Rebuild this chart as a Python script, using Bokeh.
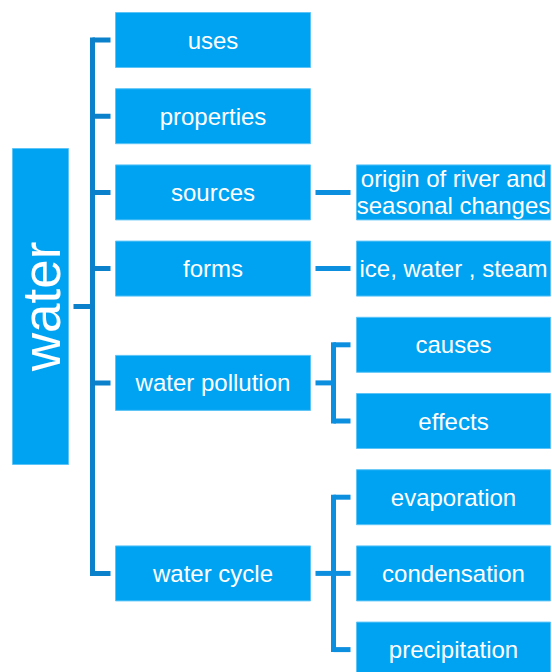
from bokeh.plotting import figure
from bokeh.models import Range1d, ColumnDataSource
from bokeh.core.properties import value
from bokeh.embed import file_html
from bokeh.resources import INLINE
import math

# ---- data (tree) ----
root_label = "water"
level1_labels = ["uses", "properties", "sources", "forms", "water pollution", "water cycle"]
level2_parents = ["sources", "forms", "water pollution", "water pollution",
                  "water cycle", "water cycle", "water cycle"]
level2_labels = ["origin of river and\nseasonal changes", "ice, water , steam",
                 "causes", "effects", "evaporation", "condensation", "precipitation"]

# ---- styles / layout ----
BOX = "#00a3f2"
BOX_EDGE = "#5cc4f7"
MAIN_LINE = "#0b80cb"
SUB_LINE = "#0d8fe0"
FONT = "Liberation Sans"

SLOT0, SLOT_STEP, BOX_H = 39.5, 76.2, 55
ROOT_L, ROOT_R, ROOT_T, ROOT_B = 12, 68, 148, 464
L1_L, L1_R = 115, 310
L2_L, L2_R = 356, 550
TRUNK_X = 92
SUB_X = 333
LW = 5

# compute slot positions
slot = 0
l1_y = {}
l2_y = []
for lab in level1_labels:
    kids = [i for i, p in enumerate(level2_parents) if p == lab]
    if kids:
        ys = []
        for k in kids:
            y = SLOT0 + SLOT_STEP * slot
            l2_y.append((k, y))
            ys.append(y)
            slot += 1
        l1_y[lab] = sum(ys) / len(ys)
    else:
        l1_y[lab] = SLOT0 + SLOT_STEP * slot
        slot += 1
l2_y = [y for _, y in sorted(l2_y)]
root_y = (ROOT_T + ROOT_B) / 2

p = figure(width=552, height=672, x_range=Range1d(0, 552), y_range=Range1d(672, 0),
           output_backend="svg", toolbar_location=None, min_border=0)
p.axis.visible = False
p.grid.visible = False
p.outline_line_color = None
p.background_fill_color = "white"
p.border_fill_color = "white"

# root box
p.quad(left=[ROOT_L], right=[ROOT_R], top=[ROOT_T], bottom=[ROOT_B],
       fill_color=BOX, line_color=BOX_EDGE, line_width=1)
p.text(x=[(ROOT_L + ROOT_R) / 2 + 1], y=[root_y], text=[root_label], angle=math.pi / 2,
       text_color="white", text_font=value(FONT), text_font_size="53px",
       text_align="center", text_baseline="middle")

# level 1 boxes
ys1 = [l1_y[l] for l in level1_labels]
src1 = ColumnDataSource(dict(
    left=[L1_L] * len(ys1), right=[L1_R] * len(ys1),
    top=[y - BOX_H / 2 for y in ys1], bottom=[y + BOX_H / 2 for y in ys1],
    x=[(L1_L + L1_R) / 2] * len(ys1), y=ys1, text=level1_labels))
p.quad(left="left", right="right", top="top", bottom="bottom", source=src1,
       fill_color=BOX, line_color=BOX_EDGE, line_width=1)
p.text(x="x", y="y", text="text", source=src1, text_color="white",
       text_font=value(FONT), text_font_size="24px",
       text_align="center", text_baseline="middle")

# level 2 boxes
src2 = ColumnDataSource(dict(
    left=[L2_L] * len(l2_y), right=[L2_R] * len(l2_y),
    top=[y - BOX_H / 2 for y in l2_y], bottom=[y + BOX_H / 2 for y in l2_y],
    x=[(L2_L + L2_R) / 2] * len(l2_y), y=l2_y, text=level2_labels))
p.quad(left="left", right="right", top="top", bottom="bottom", source=src2,
       fill_color=BOX, line_color=BOX_EDGE, line_width=1)
p.text(x="x", y="y", text="text", source=src2, text_color="white",
       text_font=value(FONT), text_font_size="24px", text_line_height=1.0,
       text_align="center", text_baseline="middle")

# trunk connectors
p.segment(x0=[TRUNK_X], y0=[min(ys1) - LW / 2], x1=[TRUNK_X], y1=[max(ys1) + LW / 2],
          line_color=MAIN_LINE, line_width=LW)
p.segment(x0=[ROOT_R + 5], y0=[root_y], x1=[TRUNK_X], y1=[root_y],
          line_color=MAIN_LINE, line_width=LW)
p.segment(x0=[TRUNK_X] * len(ys1), y0=ys1, x1=[L1_L - 5] * len(ys1), y1=ys1,
          line_color=MAIN_LINE, line_width=LW)

# sub connectors
for lab in level1_labels:
    kids = [l2_y[i] for i, pa in enumerate(level2_parents) if pa == lab]
    if not kids:
        continue
    y = l1_y[lab]
    if len(kids) == 1:
        p.segment(x0=[L1_R + 5], y0=[y], x1=[L2_L - 6], y1=[y],
                  line_color=SUB_LINE, line_width=LW)
    else:
        p.segment(x0=[L1_R + 5], y0=[y], x1=[SUB_X], y1=[y],
                  line_color=SUB_LINE, line_width=LW)
        p.segment(x0=[SUB_X], y0=[min(kids) - LW / 2], x1=[SUB_X], y1=[max(kids) + LW / 2],
                  line_color=SUB_LINE, line_width=LW)
        p.segment(x0=[SUB_X] * len(kids), y0=kids, x1=[L2_L - 6] * len(kids), y1=kids,
                  line_color=SUB_LINE, line_width=LW)

open("out.html", "w").write(file_html(p, INLINE))
